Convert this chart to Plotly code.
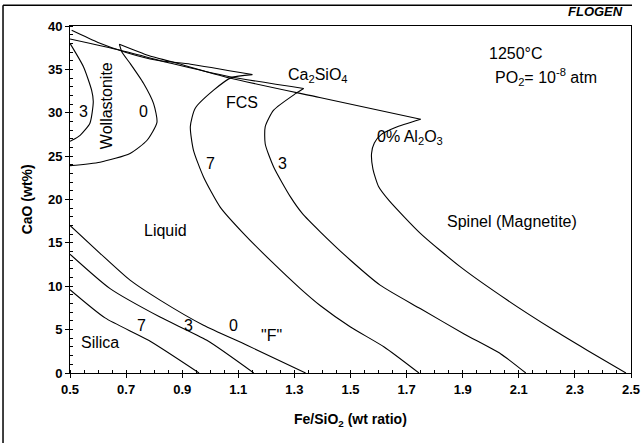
import plotly.graph_objects as go

# ---- data (x = Fe/SiO2 wt ratio, y = CaO wt%) ----
wollastonite_3_x = [0.5, 0.548, 0.577, 0.583, 0.571, 0.536, 0.506, 0.5]
wollastonite_3_y = [38.0, 35.3, 32.6, 31.3, 28.8, 27.4, 26.8, 26.7]

wollastonite_0_x = [0.5, 0.607, 0.714, 0.774, 0.81, 0.798, 0.762, 0.714, 0.685, 0.676]
wollastonite_0_y = [23.9, 24.3, 25.3, 26.8, 28.9, 31.05, 33.4, 35.7, 37.0, 37.9]

ca2sio4_0_x = [0.676, 0.78, 0.86, 1.07, 1.39, 1.75]
ca2sio4_0_y = [37.9, 36.6, 35.9, 34.0, 31.75, 29.25]
spinel_0_x = [1.75, 1.66, 1.61, 1.585, 1.575, 1.58, 1.60, 1.637, 1.75, 1.893, 2.06, 2.226, 2.345, 2.482]
spinel_0_y = [29.25, 28.3, 27.5, 26.5, 25.3, 23.5, 21.5, 19.9, 16.07, 12.2, 8.38, 4.92, 2.6, 0.0]

ca2sio4_3_x = [0.5, 0.68, 0.86, 1.07, 1.333]
ca2sio4_3_y = [38.5, 37.2, 35.7, 34.15, 32.8]
spinel_3_x = [1.333, 1.304, 1.226, 1.196, 1.196, 1.226, 1.286, 1.328, 1.393, 1.5, 1.607, 1.75, 1.905, 2.036, 2.125]
spinel_3_y = [32.8, 32.2, 30.3, 28.4, 26.4, 23.75, 20.3, 18.4, 16.25, 13.0, 10.1, 7.4, 4.5, 2.2, 0.0]

ca2sio4_7_x = [0.506, 0.6, 0.7, 0.81, 0.93, 1.15]
ca2sio4_7_y = [39.5, 38.1, 36.95, 36.05, 35.6, 34.4]
spinel_7_x = [1.15, 1.075, 1.012, 0.946, 0.929, 0.94, 0.976, 1.036, 1.119, 1.22, 1.321, 1.393, 1.5, 1.62, 1.744]
spinel_7_y = [34.4, 34.05, 32.6, 30.5, 28.4, 25.7, 22.6, 19.1, 16.07, 12.8, 9.73, 7.75, 5.3, 3.0, 0.0]

silica_0_x = [0.5, 0.607, 0.714, 0.821, 0.976, 1.131, 1.34]
silica_0_y = [17.0, 13.8, 10.7, 8.4, 5.5, 3.2, 0.0]
silica_3_x = [0.5, 0.643, 0.821, 0.988, 1.155]
silica_3_y = [13.7, 9.73, 6.45, 3.77, 0.0]
silica_7_x = [0.5, 0.625, 0.78, 0.96]
silica_7_y = [9.6, 6.35, 3.77, 0.0]

x_ticks = [0.5, 0.7, 0.9, 1.1, 1.3, 1.5, 1.7, 1.9, 2.1, 2.3, 2.5]
x_tick_labels = ["0.5", "0.7", "0.9", "1.1", "1.3", "1.5", "1.7", "1.9", "2.1", "2.3", "2.5"]
y_ticks = [0, 5, 10, 15, 20, 25, 30, 35, 40]

# labels: (text, x, y, angle)
region_labels = [
    ("3", 0.548, 30.1, 0),
    ("Wollastonite", 0.631, 30.85, -90),
    ("0", 0.762, 30.1, 0),
    ("FCS", 1.113, 31.2, 0),
    ("Ca<sub>2</sub>SiO<sub>4</sub>", 1.385, 34.3, 0),
    ("1250°C", 2.09, 36.8, 0),
    ("PO<sub>2</sub>= 10<sup>-8</sup> atm", 2.196, 34.1, 0),
    ("0% Al<sub>2</sub>O<sub>3</sub>", 1.711, 27.2, 0),
    ("7", 1.0, 24.1, 0),
    ("3", 1.256, 24.2, 0),
    ("Liquid", 0.839, 16.4, 0),
    ("Spinel (Magnetite)", 2.077, 17.5, 0),
    ("7", 0.756, 5.5, 0),
    ("3", 0.923, 5.5, 0),
    ("0", 1.083, 5.5, 0),
    ("\"F\"", 1.22, 4.35, 0),
    ("Silica", 0.607, 3.57, 0),
]

FONT = "Liberation Sans, Arial, sans-serif"

fig = go.Figure()
curves = [
    (wollastonite_3_x, wollastonite_3_y),
    (wollastonite_0_x, wollastonite_0_y),
    (ca2sio4_0_x, ca2sio4_0_y),
    (spinel_0_x, spinel_0_y),
    (ca2sio4_3_x, ca2sio4_3_y),
    (spinel_3_x, spinel_3_y),
    (ca2sio4_7_x, ca2sio4_7_y),
    (spinel_7_x, spinel_7_y),
    (silica_0_x, silica_0_y),
    (silica_3_x, silica_3_y),
    (silica_7_x, silica_7_y),
]
for cx, cy in curves:
    fig.add_trace(go.Scatter(x=cx, y=cy, mode="lines",
                             line=dict(color="black", width=1.1, shape="spline", smoothing=0.6),
                             hoverinfo="skip", showlegend=False))

annotations = []
for text, ax, ay, ang in region_labels:
    annotations.append(dict(x=ax, y=ay, xref="x", yref="y", text=text, showarrow=False,
                            textangle=ang, font=dict(family=FONT, size=16, color="black"),
                            xanchor="center", yanchor="middle"))

annotations += [
    dict(x=0.936, y=1.042, xref="paper", yref="paper", text="<b><i>FLOGEN</i></b>",
         showarrow=False, font=dict(family=FONT, size=13, color="black"),
         xanchor="center", yanchor="middle"),
    dict(x=0.5, y=-0.136, xref="paper", yref="paper", text="<b>Fe/SiO<sub>2</sub> (wt ratio)</b>",
         showarrow=False, font=dict(family=FONT, size=14, color="black"),
         xanchor="center", yanchor="middle"),
    dict(x=-0.077, y=0.5, xref="paper", yref="paper", text="<b>CaO (wt%)</b>",
         showarrow=False, textangle=-90, font=dict(family=FONT, size=14, color="black"),
         xanchor="center", yanchor="middle"),
]

shapes = [
    # outer frame (left and top edges)
    dict(type="line", xref="paper", yref="paper", x0=-0.1194, x1=-0.1194, y0=1.0597, y1=-0.22,
         line=dict(color="black", width=1.5)),
    dict(type="line", xref="paper", yref="paper", x0=-0.1194, x1=1.0018, y0=1.0597, y1=1.0597,
         line=dict(color="black", width=1.5)),
]

axis_common = dict(showgrid=False, zeroline=False, showline=True, linecolor="black", linewidth=1,
                   mirror=True, ticks="outside", ticklen=4, tickcolor="black", tickwidth=1,
                   automargin=False,
                   tickfont=dict(family=FONT, size=13, color="black"))

fig.update_layout(
    width=642, height=443,
    margin=dict(l=70, r=11, t=26, b=70),
    paper_bgcolor="white", plot_bgcolor="white",
    xaxis=dict(range=[0.5, 2.5], tickmode="array", tickvals=x_ticks,
               ticktext=["<b>%s</b>" % t for t in x_tick_labels],
               minor=dict(dtick=0.05, ticks="inside", ticklen=3, tickcolor="black", showgrid=False),
               **axis_common),
    yaxis=dict(range=[0, 40], tickmode="array", tickvals=y_ticks,
               ticktext=["<b>%d</b>" % t for t in y_ticks],
               minor=dict(dtick=1, ticks="inside", ticklen=3, tickcolor="black", showgrid=False),
               **axis_common),
    annotations=annotations,
    shapes=shapes,
    showlegend=False,
)

fig.write_html("out.html", config={"displayModeBar": False, "staticPlot": True},
               post_script="document.body.style.margin='0';document.body.style.overflow='hidden';")
